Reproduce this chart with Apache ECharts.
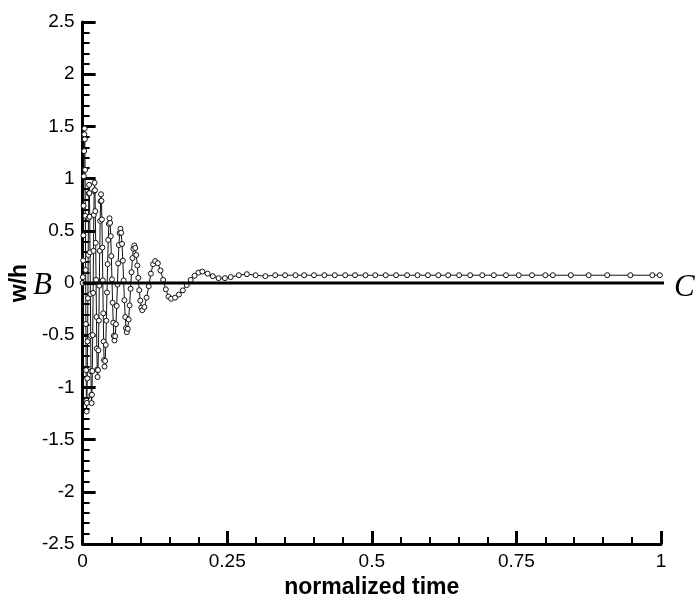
<!DOCTYPE html>
<html>
<head>
<meta charset="utf-8">
<script src="https://cdn.jsdelivr.net/npm/echarts@6/dist/echarts.min.js"></script>
<style>html,body{margin:0;padding:0;background:#fff}#chart{width:696px;height:604px}</style>
</head>
<body>
<div id="chart"></div>
<script>
// normalized time values (x)
const timeValues = [
  0.0000, 0.0004, 0.0009, 0.0013, 0.0017, 0.0021, 0.0026, 0.0030, 0.0034,
  0.0038, 0.0043, 0.0047, 0.0052, 0.0056, 0.0060, 0.0065, 0.0069,
  0.0074, 0.0080, 0.0085, 0.0091, 0.0096, 0.0101, 0.0107, 0.0112,
  0.0117, 0.0123, 0.0128, 0.0134, 0.0139, 0.0144, 0.0150, 0.0155,
  0.0161, 0.0168, 0.0174, 0.0181, 0.0187, 0.0193, 0.0200, 0.0206,
  0.0213, 0.0219, 0.0226, 0.0232, 0.0239, 0.0245, 0.0252, 0.0258,
  0.0266, 0.0273, 0.0281, 0.0288, 0.0296, 0.0303, 0.0311, 0.0318,
  0.0326, 0.0333, 0.0341, 0.0348, 0.0356, 0.0363, 0.0371, 0.0378,
  0.0389, 0.0400, 0.0410, 0.0421, 0.0432, 0.0443, 0.0453, 0.0464,
  0.0475, 0.0486, 0.0496, 0.0507, 0.0518, 0.0529, 0.0539, 0.0550,
  0.0563, 0.0576, 0.0589, 0.0602, 0.0614, 0.0627, 0.0640, 0.0653,
  0.0667, 0.0681, 0.0695, 0.0709, 0.0722, 0.0736, 0.0750, 0.0764,
  0.0780, 0.0796, 0.0812, 0.0829, 0.0845, 0.0861, 0.0877, 0.0893,
  0.0910, 0.0928, 0.0945, 0.0962, 0.0979, 0.0997, 0.1014, 0.1031,
  0.1068, 0.1105, 0.1143, 0.1180, 0.1217, 0.1254,
  0.1300, 0.1346, 0.1392, 0.1438, 0.1484, 0.1530,
  0.1598, 0.1665, 0.1733, 0.1800, 0.1868, 0.1935, 0.2003, 0.2070,
  0.2160, 0.2250, 0.2350, 0.2460, 0.2560, 0.2700, 0.2840, 0.2990,
  0.3160, 0.3330, 0.3500, 0.3680, 0.3830, 0.4000, 0.4180, 0.4360,
  0.4540, 0.4710, 0.4890, 0.5060, 0.5240, 0.5420, 0.5610, 0.5790,
  0.5970, 0.6150, 0.6320, 0.6510, 0.6700, 0.6910, 0.7110, 0.7320,
  0.7540, 0.7770, 0.8000, 0.8130, 0.8440, 0.8750, 0.9070, 0.9470,
  0.9850, 0.9980
];
// w/h values (y)
const whValues = [
  0.00, 0.056, 0.216, 0.457, 0.740, 1.023, 1.264, 1.424, 1.48,
  1.377, 1.084, 0.643, 0.125, -0.393, -0.834, -1.127, -1.23,
  -1.148, -0.913, -0.559, -0.145, 0.269, 0.623, 0.858, 0.94,
  0.861, 0.635, 0.294, -0.105, -0.504, -0.845, -1.071, -1.15,
  -1.070, -0.842, -0.498, -0.095, 0.308, 0.652, 0.880, 0.96,
  0.889, 0.688, 0.385, 0.030, -0.325, -0.628, -0.829, -0.90,
  -0.833, -0.644, -0.359, -0.025, 0.309, 0.595, 0.784, 0.85,
  0.787, 0.609, 0.340, 0.025, -0.290, -0.559, -0.737, -0.80,
  -0.746, -0.593, -0.361, -0.090, 0.181, 0.413, 0.566, 0.62,
  0.576, 0.449, 0.258, 0.035, -0.188, -0.379, -0.506, -0.55,
  -0.509, -0.394, -0.219, -0.015, 0.189, 0.364, 0.479, 0.52,
  0.482, 0.375, 0.214, 0.025, -0.164, -0.325, -0.432, -0.47,
  -0.438, -0.349, -0.214, -0.055, 0.104, 0.239, 0.328, 0.36,
  0.336, 0.269, 0.168, 0.050, -0.068, -0.169, -0.236, -0.26,
  -0.23, -0.14, -0.03, 0.09, 0.18, 0.21,
  0.19, 0.12, 0.03, -0.06, -0.13, -0.15,
  -0.14, -0.11, -0.07, -0.02, 0.03, 0.07, 0.10, 0.11,
  0.09, 0.066, 0.047, 0.047, 0.057, 0.075, 0.085, 0.075,
  0.066, 0.075, 0.075, 0.075, 0.075, 0.075, 0.075, 0.075,
  0.075, 0.075, 0.075, 0.075, 0.075, 0.075, 0.075, 0.075,
  0.075, 0.075, 0.075, 0.075, 0.075, 0.075, 0.075, 0.075,
  0.075, 0.075, 0.075, 0.075, 0.075, 0.075, 0.075, 0.075,
  0.075, 0.075
];
// reference line B–C
const refLineTimes = [0, 1.01];
const refLineValues = [0, 0];
const xTicks = [0, 0.25, 0.5, 0.75, 1];
const yTicks = [-2.5, -2, -1.5, -1, -0.5, 0, 0.5, 1, 1.5, 2, 2.5];

const seriesData = timeValues.map((t, i) => [t, whValues[i]]);
const refData = refLineTimes.map((t, i) => [t, refLineValues[i]]);

const chart = echarts.init(document.getElementById('chart'), null, {renderer: 'canvas'});
const font = 'Liberation Sans, Arial, sans-serif';
const axisCommon = {
  axisLine: {show: true, onZero: false, lineStyle: {color: '#000', width: 3}},
  axisTick: {show: true, inside: true, length: 13, lineStyle: {color: '#000', width: 3}},
  minorTick: {show: true, splitNumber: 5, length: 7, lineStyle: {color: '#000', width: 2}},
  splitLine: {show: false},
  axisLabel: {color: '#000', fontSize: 19, fontFamily: font, margin: 8}
};
chart.setOption({
  animation: false,
  backgroundColor: '#fff',
  grid: {left: 79, right: 35, top: 22, bottom: 52, containLabel: false},
  xAxis: Object.assign({}, axisCommon, {
    type: 'value', min: xTicks[0], max: xTicks[xTicks.length - 1], interval: 0.25,
    name: 'normalized time', nameLocation: 'middle', nameGap: 24,
    nameTextStyle: {color: '#000', fontSize: 23, fontWeight: 'bold', fontFamily: font}
  }),
  yAxis: Object.assign({}, axisCommon, {
    type: 'value', min: yTicks[0], max: yTicks[yTicks.length - 1], interval: 0.5,
    name: 'w/h', nameLocation: 'middle', nameGap: 44, nameRotate: 90,
    nameTextStyle: {color: '#000', fontSize: 23, fontWeight: 'bold', fontFamily: font}
  }),
  graphic: [
    {type: 'text', left: 33, top: 270, style: {text: 'B', font: 'italic 31px "Liberation Serif", "Times New Roman", serif', fill: '#000'}},
    {type: 'text', left: 674, top: 272, style: {text: 'C', font: 'italic 31px "Liberation Serif", "Times New Roman", serif', fill: '#000'}}
  ],
  series: [
    {
      type: 'line', data: seriesData, z: 2,
      symbol: 'circle', symbolSize: 5, showSymbol: true,
      lineStyle: {color: '#111', width: 1},
      itemStyle: {color: '#fff', borderColor: '#111', borderWidth: 1}
    },
    {
      type: 'line', data: refData, z: 3, clip: false,
      symbol: 'none', lineStyle: {color: '#000', width: 3}
    }
  ]
});
</script>
</body>
</html>
